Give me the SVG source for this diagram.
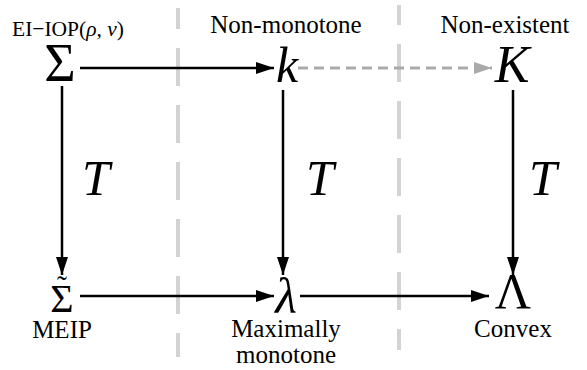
<svg xmlns="http://www.w3.org/2000/svg" width="587" height="370" viewBox="0 0 587 370">
<style>
.lbl{font-family:"Liberation Serif","Times New Roman",serif;font-size:25px;fill:#000;text-anchor:middle}
.math{font-family:"Liberation Serif","Times New Roman",serif;font-size:50px;fill:#000;text-anchor:middle}
.it{font-style:italic}
.arr{stroke:#000;stroke-width:2.5;fill:none;marker-end:url(#ah)}
.darr{stroke:#aaa;stroke-width:3;fill:none;stroke-dasharray:10 6;marker-end:url(#ahg)}
.sep{stroke:#d3d3d3;stroke-width:4;stroke-dasharray:38 19}
</style>
<defs>
<marker id="ah" markerUnits="userSpaceOnUse" markerWidth="20" markerHeight="14" refX="18" refY="6" orient="auto">
<path d="M0,0 L18,6 L0,12 Z" fill="#000"/>
</marker>
<marker id="ahg" markerUnits="userSpaceOnUse" markerWidth="20" markerHeight="14" refX="18" refY="6" orient="auto">
<path d="M0,0 L18,6 L0,12 Z" fill="#aaa"/>
</marker>
</defs>
<g id="separators">
<line class="sep" x1="178" y1="8" x2="178" y2="357" stroke-dashoffset="17"/>
<line class="sep" x1="399" y1="5" x2="399" y2="350" stroke-dashoffset="18"/>
</g>
<g id="connectors">
<line class="arr" x1="80" y1="68" x2="274" y2="68"/>
<line class="darr" x1="298" y1="68" x2="492" y2="68"/>
<line class="arr" x1="62" y1="86" x2="62" y2="275"/>
<line class="arr" x1="283" y1="90" x2="283" y2="275"/>
<line class="arr" x1="513" y1="90" x2="513" y2="275"/>
<line class="arr" x1="80" y1="296" x2="274" y2="296"/>
<line class="arr" x1="300" y1="296" x2="489" y2="296"/>
<text class="math it" x="96" y="195">T</text>
<text class="math it" x="320" y="195">T</text>
<text class="math it" x="543" y="195">T</text>
</g>
<g id="sigma">
<text class="math" x="60" y="81" style="font-size:54px">Σ</text>
<text class="lbl" x="12" y="36" style="font-size:21.5px;text-anchor:start">EI−IOP(<tspan font-style="italic">ρ</tspan>, <tspan font-style="italic">ν</tspan>)</text>
</g>
<g id="k">
<text class="math it" x="287" y="82">k</text>
<text class="lbl" x="286" y="33">Non-monotone</text>
</g>
<g id="K">
<text class="math it" x="512" y="82" style="font-size:52px">K</text>
<text class="lbl" x="505" y="33">Non-existent</text>
</g>
<g id="sigma-tilde">
<text class="math" x="62" y="312" style="font-size:40px">Σ</text>
<text class="math" x="62" y="296" style="font-size:30px">˜</text>
<text class="lbl" x="62" y="338">MEIP</text>
</g>
<g id="lambda">
<text class="math it" x="286" y="313">λ</text>
<text class="lbl" x="286" y="337">Maximally</text>
<text class="lbl" x="286" y="363">monotone</text>
</g>
<g id="Lambda">
<text class="math" x="513" y="308">Λ</text>
<text class="lbl" x="513" y="337">Convex</text>
</g>
</svg>
